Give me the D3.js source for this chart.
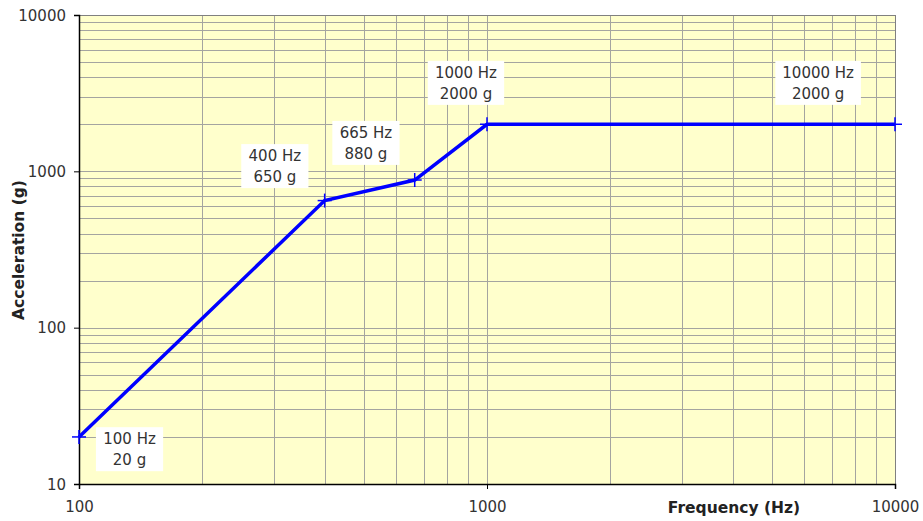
<!DOCTYPE html>
<html><head><meta charset="utf-8">
<script src="https://cdn.jsdelivr.net/npm/d3@7"></script>
<style>body{margin:0;background:#fff}svg{display:block}text{font-family:"DejaVu Sans",Verdana,sans-serif}</style>
</head><body><svg id="c" width="923" height="521"></svg>
<script>
const freqs = [100, 400, 665, 1000, 10000];
const accels = [20, 650, 880, 2000, 2000];
const labelLines1 = ["100 Hz", "400 Hz", "665 Hz", "1000 Hz", "10000 Hz"];
const labelLines2 = ["20 g", "650 g", "880 g", "2000 g", "2000 g"];
const labelFreq = [133, 302, 505, 888, 6480];
const labelAcc = [16.7, 1080, 1520, 3680, 3680];
const xTicks = [100, 1000, 10000];
const yTicks = [10, 100, 1000, 10000];

const svg = d3.select("#c");
const L = 79, R = 895, T = 15, B = 484;
const x = d3.scaleLog().domain([100, 10000]).range([L, R]);
const y = d3.scaleLog().domain([10, 10000]).range([B, T]);

svg.append("rect").attr("x", L).attr("y", T).attr("width", R - L).attr("height", B - T).attr("fill", "#ffffcc");

const minorX = [], minorY = [];
for (let d = 100; d < 10000; d *= 10) for (let k = 1; k <= 10; k++) minorX.push(d * k);
for (let d = 10; d < 10000; d *= 10) for (let k = 1; k <= 10; k++) minorY.push(d * k);
const g = svg.append("g");
g.selectAll(".gx").data(minorX).join("line").attr("x1", d => Math.round(x(d)) + 0.5).attr("x2", d => Math.round(x(d)) + 0.5).attr("y1", T).attr("y2", B).attr("stroke", "#a4a4a0").attr("stroke-width", 1);
g.selectAll(".gy").data(minorY).join("line").attr("y1", d => Math.round(y(d)) + 0.5).attr("y2", d => Math.round(y(d)) + 0.5).attr("x1", L).attr("x2", R).attr("stroke", "#a4a4a0").attr("stroke-width", 1);
svg.append("rect").attr("x", L + 0.5).attr("y", T + 0.5).attr("width", R - L).attr("height", B - T).attr("fill", "none").attr("stroke", "#808080");

const xAxis = svg.append("g").attr("transform", `translate(0,${B})`)
  .call(d3.axisBottom(x).tickValues(xTicks).tickFormat(d3.format("d")).tickSize(5).tickPadding(8));
const yAxis = svg.append("g").attr("transform", `translate(${L},0)`)
  .call(d3.axisLeft(y).tickValues(yTicks).tickFormat(d3.format("d")).tickSize(5).tickPadding(8));
[xAxis, yAxis].forEach(a => {
  a.select(".domain").attr("stroke", "#000").attr("stroke-width", 1.5);
  a.selectAll("text").attr("font-size", 15).attr("fill", "#333").style("font-family", "'DejaVu Sans',Verdana,sans-serif");
  a.selectAll(".tick line").attr("stroke", "#000");
});
xAxis.selectAll("text").attr("dy", "1.0em");
yAxis.selectAll("text").attr("dy", "0.35em");

const line = d3.line().x((d, i) => x(freqs[i])).y(d => y(d));
svg.append("path").datum(accels).attr("d", line).attr("fill", "none").attr("stroke", "#0000ff").attr("stroke-width", 3.5);
const mk = svg.append("g").attr("stroke", "#0000ff").attr("stroke-width", 1.5);
accels.forEach((a, i) => {
  const cx = x(freqs[i]), cy = y(a);
  mk.append("line").attr("x1", cx - 7).attr("x2", cx + 7).attr("y1", cy).attr("y2", cy);
  mk.append("line").attr("x1", cx).attr("x2", cx).attr("y1", cy - 7).attr("y2", cy + 7);
});

labelFreq.forEach((f, i) => {
  const cx = x(f), cy = y(labelAcc[i]);
  const t1 = labelLines1[i], t2 = labelLines2[i];
  const w = Math.max(t1.length, t2.length) * 9.2 + 12;
  const gg = svg.append("g");
  gg.append("rect").attr("x", cx - w / 2).attr("y", cy - 22).attr("width", w).attr("height", 44).attr("fill", "#fff");
  gg.append("text").attr("x", cx).attr("y", cy - 5).attr("text-anchor", "middle").attr("font-size", 15).attr("fill", "#333").text(t1);
  gg.append("text").attr("x", cx).attr("y", cy + 16).attr("text-anchor", "middle").attr("font-size", 15).attr("fill", "#333").text(t2);
});

svg.append("text").attr("transform", `translate(24,${250}) rotate(-90)`).attr("text-anchor", "middle").attr("font-size", 15.5).attr("font-weight", "bold").attr("fill", "#222").text("Acceleration (g)");
svg.append("text").attr("x", 734).attr("y", 513).attr("text-anchor", "middle").attr("font-size", 15.5).attr("font-weight", "bold").attr("fill", "#222").text("Frequency (Hz)");
</script></body></html>
